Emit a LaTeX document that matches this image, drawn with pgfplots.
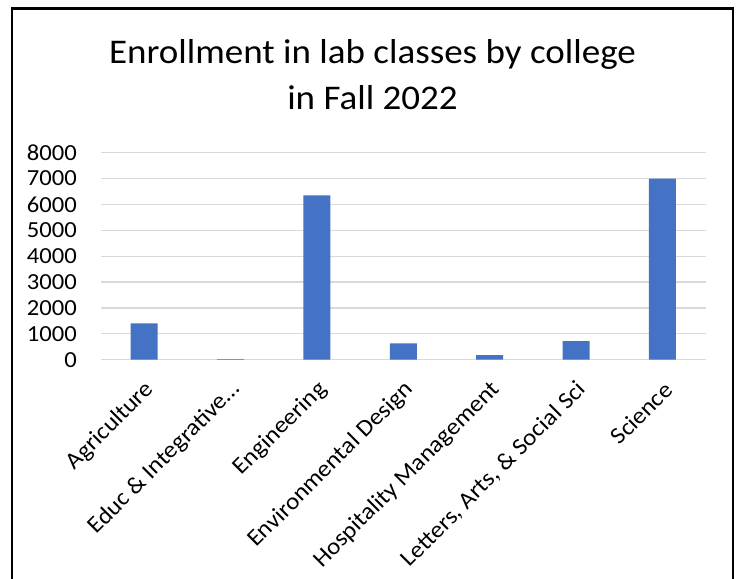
\documentclass[border=0pt]{standalone}
\usepackage{pgfplots}
\pgfplotsset{compat=1.18}
\usepackage{fontspec}
\setmainfont{Carlito}[FakeStretch=1.07]
\definecolor{barblue}{HTML}{4472C4}
\definecolor{gridgray}{HTML}{D9D9D9}
\begin{document}
\begin{tikzpicture}
\path[use as bounding box] (0,0) rectangle (738bp,579bp);
\draw[line width=2.5bp, line join=miter] (12bp,-5bp) -- (12bp,570.5bp) -- (733bp,570.5bp) -- (733bp,-5bp);
\node[anchor=base, inner sep=0pt, font=\fontsize{34.6bp}{41.5bp}\selectfont] at (372.5bp,515.7bp) {Enrollment in lab classes by college};
\node[anchor=base, inner sep=0pt, font=\fontsize{34.6bp}{41.5bp}\selectfont] at (372.5bp,469bp) {in Fall 2022};
\begin{axis}[
  at={(101bp,219.3bp)}, anchor=south west,
  scale only axis, width=604.6bp, height=207bp,
  xmin=-0.5, xmax=6.5, ymin=0, ymax=8000,
  ytick={0,1000,...,8000},
  xtick={0,...,6},
  xticklabels={Agriculture, Educ \& Integrative…, Engineering, Environmental Design, Hospitality Management, {Letters, Arts, \& Social Sci}, Science},
  ymajorgrids,
  grid style={gridgray, line width=1.2bp},
  axis line style={draw=none},
  major tick length=0pt,
  /pgf/number format/assume math mode=true,
  /pgf/number format/1000 sep={},
  yticklabel style={font=\fontsize{23bp}{27bp}\selectfont, anchor=east, inner sep=0pt, xshift=-24bp},
  xticklabel style={font=\fontsize{23.5bp}{27bp}\selectfont, rotate=45, anchor=east, inner sep=0pt, xshift=-14bp, yshift=-23bp},
]
\addplot[ybar, bar width=27bp, fill=barblue, draw=none] coordinates {(0,1400) (1,25) (2,6350) (3,630) (4,180) (5,720) (6,7000)};
\end{axis}
\end{tikzpicture}
\end{document}
